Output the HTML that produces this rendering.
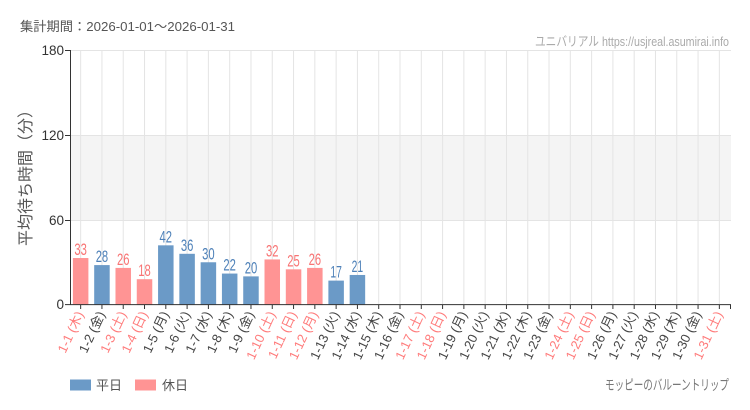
<!DOCTYPE html>
<html><head><meta charset="utf-8"><style>
html,body{margin:0;padding:0;background:#fff;}
svg{display:block;}
text{font-family:"Liberation Sans","Noto Sans CJK JP",sans-serif;}
</style></head><body>
<svg width="750" height="410" viewBox="0 0 750 410" xmlns="http://www.w3.org/2000/svg">
<rect width="750" height="410" fill="#fff"/>
<rect x="70" y="135.3" width="661" height="84.7" fill="#f4f4f4"/>
<g stroke="#e4e4e4" stroke-width="1">
<line x1="70" y1="50.5" x2="731" y2="50.5"/>
<line x1="70" y1="135.5" x2="731" y2="135.5"/>
<line x1="70" y1="220.5" x2="731" y2="220.5"/>
</g>
<g stroke="#e4e4e4" stroke-width="1">
<line x1="80.65" y1="50" x2="80.65" y2="304"/>
<line x1="101.94" y1="50" x2="101.94" y2="304"/>
<line x1="123.23" y1="50" x2="123.23" y2="304"/>
<line x1="144.52" y1="50" x2="144.52" y2="304"/>
<line x1="165.81" y1="50" x2="165.81" y2="304"/>
<line x1="187.10" y1="50" x2="187.10" y2="304"/>
<line x1="208.39" y1="50" x2="208.39" y2="304"/>
<line x1="229.68" y1="50" x2="229.68" y2="304"/>
<line x1="250.97" y1="50" x2="250.97" y2="304"/>
<line x1="272.26" y1="50" x2="272.26" y2="304"/>
<line x1="293.55" y1="50" x2="293.55" y2="304"/>
<line x1="314.84" y1="50" x2="314.84" y2="304"/>
<line x1="336.13" y1="50" x2="336.13" y2="304"/>
<line x1="357.42" y1="50" x2="357.42" y2="304"/>
<line x1="378.71" y1="50" x2="378.71" y2="304"/>
<line x1="400.00" y1="50" x2="400.00" y2="304"/>
<line x1="421.29" y1="50" x2="421.29" y2="304"/>
<line x1="442.58" y1="50" x2="442.58" y2="304"/>
<line x1="463.87" y1="50" x2="463.87" y2="304"/>
<line x1="485.16" y1="50" x2="485.16" y2="304"/>
<line x1="506.45" y1="50" x2="506.45" y2="304"/>
<line x1="527.74" y1="50" x2="527.74" y2="304"/>
<line x1="549.03" y1="50" x2="549.03" y2="304"/>
<line x1="570.32" y1="50" x2="570.32" y2="304"/>
<line x1="591.61" y1="50" x2="591.61" y2="304"/>
<line x1="612.90" y1="50" x2="612.90" y2="304"/>
<line x1="634.19" y1="50" x2="634.19" y2="304"/>
<line x1="655.48" y1="50" x2="655.48" y2="304"/>
<line x1="676.77" y1="50" x2="676.77" y2="304"/>
<line x1="698.06" y1="50" x2="698.06" y2="304"/>
<line x1="719.35" y1="50" x2="719.35" y2="304"/>
</g>
<g>
<rect x="72.9" y="258.03" width="15.5" height="46.57" fill="#ff9494"/>
<rect x="94.19" y="265.09" width="15.5" height="39.51" fill="#6b9ac7"/>
<rect x="115.48" y="267.91" width="15.5" height="36.69" fill="#ff9494"/>
<rect x="136.77" y="279.2" width="15.5" height="25.4" fill="#ff9494"/>
<rect x="158.06" y="245.33" width="15.5" height="59.27" fill="#6b9ac7"/>
<rect x="179.35" y="253.8" width="15.5" height="50.8" fill="#6b9ac7"/>
<rect x="200.64" y="262.27" width="15.5" height="42.33" fill="#6b9ac7"/>
<rect x="221.93" y="273.56" width="15.5" height="31.04" fill="#6b9ac7"/>
<rect x="243.22" y="276.38" width="15.5" height="28.22" fill="#6b9ac7"/>
<rect x="264.51" y="259.44" width="15.5" height="45.16" fill="#ff9494"/>
<rect x="285.8" y="269.32" width="15.5" height="35.28" fill="#ff9494"/>
<rect x="307.09" y="267.91" width="15.5" height="36.69" fill="#ff9494"/>
<rect x="328.38" y="280.61" width="15.5" height="23.99" fill="#6b9ac7"/>
<rect x="349.67" y="274.97" width="15.5" height="29.63" fill="#6b9ac7"/>
</g>
<g font-size="16.5" text-anchor="middle">
<text x="80.65" y="255" fill="#f87474" textLength="12.5" lengthAdjust="spacingAndGlyphs">33</text>
<text x="101.94" y="262" fill="#4d80b8" textLength="12.5" lengthAdjust="spacingAndGlyphs">28</text>
<text x="123.23" y="265" fill="#f87474" textLength="12.5" lengthAdjust="spacingAndGlyphs">26</text>
<text x="144.52" y="276" fill="#f87474" textLength="12.5" lengthAdjust="spacingAndGlyphs">18</text>
<text x="165.81" y="242.3" fill="#4d80b8" textLength="12.5" lengthAdjust="spacingAndGlyphs">42</text>
<text x="187.10" y="250.8" fill="#4d80b8" textLength="12.5" lengthAdjust="spacingAndGlyphs">36</text>
<text x="208.39" y="259.3" fill="#4d80b8" textLength="12.5" lengthAdjust="spacingAndGlyphs">30</text>
<text x="229.68" y="270.5" fill="#4d80b8" textLength="12.5" lengthAdjust="spacingAndGlyphs">22</text>
<text x="250.97" y="273.4" fill="#4d80b8" textLength="12.5" lengthAdjust="spacingAndGlyphs">20</text>
<text x="272.26" y="256.4" fill="#f87474" textLength="12.5" lengthAdjust="spacingAndGlyphs">32</text>
<text x="293.55" y="266.3" fill="#f87474" textLength="12.5" lengthAdjust="spacingAndGlyphs">25</text>
<text x="314.84" y="264.9" fill="#f87474" textLength="12.5" lengthAdjust="spacingAndGlyphs">26</text>
<text x="336.13" y="277.6" fill="#4d80b8" textLength="11.5" lengthAdjust="spacingAndGlyphs">17</text>
<text x="357.42" y="272" fill="#4d80b8" textLength="11.5" lengthAdjust="spacingAndGlyphs">21</text>
</g>
<line x1="70.5" y1="50" x2="70.5" y2="305" stroke="#333" stroke-width="1"/>
<line x1="70" y1="304.6" x2="731" y2="304.6" stroke="#333" stroke-width="1"/>
<g stroke="#333" stroke-width="1">
<line x1="65" y1="50.5" x2="70" y2="50.5"/>
<line x1="65" y1="135.5" x2="70" y2="135.5"/>
<line x1="65" y1="220.5" x2="70" y2="220.5"/>
<line x1="65" y1="304.6" x2="70" y2="304.6"/>
</g>
<g stroke="#333" stroke-width="1">
<line x1="80.65" y1="305" x2="80.65" y2="309"/>
<line x1="101.94" y1="305" x2="101.94" y2="309"/>
<line x1="123.23" y1="305" x2="123.23" y2="309"/>
<line x1="144.52" y1="305" x2="144.52" y2="309"/>
<line x1="165.81" y1="305" x2="165.81" y2="309"/>
<line x1="187.10" y1="305" x2="187.10" y2="309"/>
<line x1="208.39" y1="305" x2="208.39" y2="309"/>
<line x1="229.68" y1="305" x2="229.68" y2="309"/>
<line x1="250.97" y1="305" x2="250.97" y2="309"/>
<line x1="272.26" y1="305" x2="272.26" y2="309"/>
<line x1="293.55" y1="305" x2="293.55" y2="309"/>
<line x1="314.84" y1="305" x2="314.84" y2="309"/>
<line x1="336.13" y1="305" x2="336.13" y2="309"/>
<line x1="357.42" y1="305" x2="357.42" y2="309"/>
<line x1="378.71" y1="305" x2="378.71" y2="309"/>
<line x1="400.00" y1="305" x2="400.00" y2="309"/>
<line x1="421.29" y1="305" x2="421.29" y2="309"/>
<line x1="442.58" y1="305" x2="442.58" y2="309"/>
<line x1="463.87" y1="305" x2="463.87" y2="309"/>
<line x1="485.16" y1="305" x2="485.16" y2="309"/>
<line x1="506.45" y1="305" x2="506.45" y2="309"/>
<line x1="527.74" y1="305" x2="527.74" y2="309"/>
<line x1="549.03" y1="305" x2="549.03" y2="309"/>
<line x1="570.32" y1="305" x2="570.32" y2="309"/>
<line x1="591.61" y1="305" x2="591.61" y2="309"/>
<line x1="612.90" y1="305" x2="612.90" y2="309"/>
<line x1="634.19" y1="305" x2="634.19" y2="309"/>
<line x1="655.48" y1="305" x2="655.48" y2="309"/>
<line x1="676.77" y1="305" x2="676.77" y2="309"/>
<line x1="698.06" y1="305" x2="698.06" y2="309"/>
<line x1="719.35" y1="305" x2="719.35" y2="309"/>
<line x1="730.5" y1="305" x2="730.5" y2="309"/>
</g>
<g font-size="13.5" fill="#333" text-anchor="end">
<text x="64" y="55">180</text>
<text x="64" y="140">120</text>
<text x="64" y="225">60</text>
<text x="64" y="309">0</text>
</g>
<text transform="translate(31,174) rotate(-90)" font-size="16" fill="#555" text-anchor="middle">平均待ち時間（分）</text>
<g font-size="13" text-anchor="end">
<text transform="translate(84,314) rotate(-65)" fill="#ff7b7b">1-1 (木)</text>
<text transform="translate(105.3,314) rotate(-65)" fill="#444">1-2 (金)</text>
<text transform="translate(126.6,314) rotate(-65)" fill="#ff7b7b">1-3 (土)</text>
<text transform="translate(147.9,314) rotate(-65)" fill="#ff7b7b">1-4 (日)</text>
<text transform="translate(169.2,314) rotate(-65)" fill="#444">1-5 (月)</text>
<text transform="translate(190.5,314) rotate(-65)" fill="#444">1-6 (火)</text>
<text transform="translate(211.8,314) rotate(-65)" fill="#444">1-7 (水)</text>
<text transform="translate(233.1,314) rotate(-65)" fill="#444">1-8 (木)</text>
<text transform="translate(254.4,314) rotate(-65)" fill="#444">1-9 (金)</text>
<text transform="translate(275.7,314) rotate(-65)" fill="#ff7b7b">1-10 (土)</text>
<text transform="translate(297,314) rotate(-65)" fill="#ff7b7b">1-11 (日)</text>
<text transform="translate(318.3,314) rotate(-65)" fill="#ff7b7b">1-12 (月)</text>
<text transform="translate(339.6,314) rotate(-65)" fill="#444">1-13 (火)</text>
<text transform="translate(360.9,314) rotate(-65)" fill="#444">1-14 (水)</text>
<text transform="translate(382.2,314) rotate(-65)" fill="#444">1-15 (木)</text>
<text transform="translate(403.4,314) rotate(-65)" fill="#444">1-16 (金)</text>
<text transform="translate(424.7,314) rotate(-65)" fill="#ff7b7b">1-17 (土)</text>
<text transform="translate(446,314) rotate(-65)" fill="#ff7b7b">1-18 (日)</text>
<text transform="translate(467.3,314) rotate(-65)" fill="#444">1-19 (月)</text>
<text transform="translate(488.6,314) rotate(-65)" fill="#444">1-20 (火)</text>
<text transform="translate(509.9,314) rotate(-65)" fill="#444">1-21 (水)</text>
<text transform="translate(531.2,314) rotate(-65)" fill="#444">1-22 (木)</text>
<text transform="translate(552.5,314) rotate(-65)" fill="#444">1-23 (金)</text>
<text transform="translate(573.8,314) rotate(-65)" fill="#ff7b7b">1-24 (土)</text>
<text transform="translate(595.1,314) rotate(-65)" fill="#ff7b7b">1-25 (日)</text>
<text transform="translate(616.4,314) rotate(-65)" fill="#444">1-26 (月)</text>
<text transform="translate(637.7,314) rotate(-65)" fill="#444">1-27 (火)</text>
<text transform="translate(659,314) rotate(-65)" fill="#444">1-28 (水)</text>
<text transform="translate(680.3,314) rotate(-65)" fill="#444">1-29 (木)</text>
<text transform="translate(701.6,314) rotate(-65)" fill="#444">1-30 (金)</text>
<text transform="translate(722.9,314) rotate(-65)" fill="#ff7b7b">1-31 (土)</text>
</g>
<text x="20" y="31" font-size="13" fill="#555" textLength="215" lengthAdjust="spacingAndGlyphs">集計期間：2026-01-01～2026-01-31</text>
<text x="729" y="46" font-size="13" fill="#aaa" text-anchor="end" textLength="194" lengthAdjust="spacingAndGlyphs">ユニバリアル  https://usjreal.asumirai.info</text>
<rect x="70" y="379.5" width="21" height="11" fill="#6b9ac7"/>
<text x="96" y="390" font-size="13" fill="#555">平日</text>
<rect x="135" y="379.5" width="21" height="11" fill="#ff9494"/>
<text x="162" y="390" font-size="13" fill="#555">休日</text>
<text x="729" y="390" font-size="14" fill="#777" text-anchor="end" textLength="124" lengthAdjust="spacingAndGlyphs">モッピーのバルーントリップ</text>
</svg>
</body></html>
